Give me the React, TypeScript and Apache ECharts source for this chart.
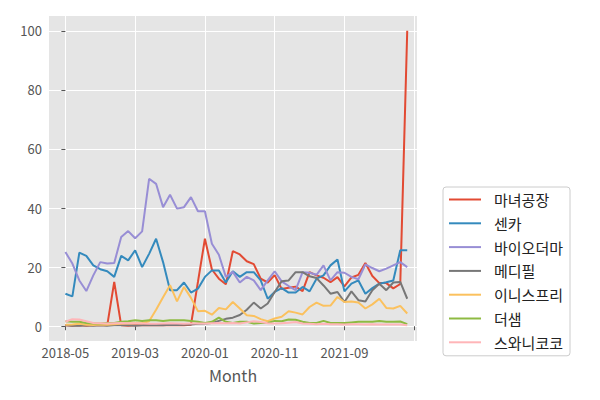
import React, { useEffect, useRef } from "react";
import * as echarts from "echarts";

const seriesNames = ["마녀공장", "센카", "바이오더마", "메디필", "이니스프리", "더샘", "스와니코코"];
const colors = ["#E24A33", "#348ABD", "#988ED5", "#777777", "#FBC15E", "#8EBA42", "#FFB5B8"];

const xTickValues = [0, 10, 20, 30, 40, 50];
const xTickLabels = ["2018-05", "2019-03", "2020-01", "2020-11", "2021-09", ""];
const yTickValues = [0, 20, 40, 60, 80, 100];

const witchFactory = [0.3, 0.2, 0.3, 0.2, 0.3, 0.4, 0.3, 15.0, 0.3, 0.2, 0.3, 0.3, 0.4, 0.3, 0.3, 0.4, 0.3, 0.3, 0.5, 15.0, 29.6, 19.2, 16.1, 14.2, 25.4, 24.3, 22.0, 21.0, 16.1, 14.8, 17.3, 12.6, 13.0, 13.4, 11.9, 18.3, 17.2, 16.4, 14.9, 16.6, 13.5, 16.5, 17.4, 21.4, 17.0, 14.6, 14.6, 12.8, 14.3, 100];
const senka = [11.0, 10.1, 24.9, 23.8, 20.6, 19.3, 18.6, 16.7, 23.8, 22.3, 25.7, 20.0, 24.5, 29.6, 21.7, 12.2, 12.2, 14.8, 11.4, 12.7, 16.7, 18.9, 18.9, 14.8, 18.6, 16.7, 18.3, 18.3, 15.5, 9.3, 11.6, 12.9, 11.4, 11.4, 13.3, 11.8, 16.1, 17.2, 20.6, 22.6, 11.8, 14.4, 15.5, 11.0, 12.9, 14.4, 14.9, 15.5, 25.7, 25.7];
const bioderma = [25.1, 21.2, 15.5, 11.9, 17.2, 21.7, 21.2, 21.4, 30.2, 32.2, 29.8, 32.1, 49.9, 48.2, 40.3, 44.5, 39.8, 40.3, 43.7, 38.9, 38.9, 27.9, 24.2, 16.7, 18.4, 14.8, 16.7, 15.5, 12.2, 15.5, 18.6, 15.2, 13.6, 12.2, 18.3, 18.1, 17.4, 20.6, 15.5, 18.3, 18.1, 16.7, 15.9, 20.9, 19.7, 18.6, 19.5, 20.6, 21.7, 20.0];
const medipeel = [0.3, 0.2, 0.2, 0.3, 0.2, 0.3, 0.2, 0.3, 0.3, 0.3, 0.2, 0.3, 0.3, 0.4, 0.3, 0.5, 0.4, 0.5, 0.6, 0.8, 0.9, 1.1, 1.8, 2.5, 2.9, 3.8, 5.6, 8.0, 6.0, 7.7, 11.6, 15.2, 15.5, 18.3, 18.3, 16.9, 16.3, 13.8, 11.0, 11.6, 8.2, 11.8, 8.8, 8.4, 12.2, 14.4, 12.2, 14.8, 15.0, 9.3];
const innisfree = [0.5, 0.6, 0.8, 0.5, 0.4, 0.6, 0.5, 0.7, 0.8, 0.9, 1.0, 1.0, 1.7, 5.6, 9.8, 13.9, 8.4, 13.3, 9.6, 5.1, 5.2, 3.9, 6.2, 5.7, 8.2, 6.0, 3.7, 3.5, 2.4, 1.7, 2.6, 3.2, 5.1, 4.6, 4.0, 6.5, 8.0, 6.9, 7.0, 9.9, 8.2, 8.4, 8.0, 6.0, 7.4, 9.3, 6.2, 6.0, 6.9, 4.3];
const thesaem = [1.7, 1.5, 1.5, 1.1, 0.9, 0.9, 1.1, 1.1, 1.5, 1.7, 2.0, 1.8, 2.0, 2.0, 1.8, 2.0, 2.0, 2.0, 1.8, 1.5, 1.1, 1.5, 2.9, 1.5, 1.1, 1.5, 1.5, 0.9, 1.1, 1.1, 1.8, 1.7, 2.3, 2.2, 1.5, 1.1, 1.1, 1.8, 1.1, 1.1, 1.1, 1.3, 1.5, 1.5, 1.5, 1.8, 1.5, 1.5, 1.6, 0.7];
const swanicoco = [1.5, 2.4, 2.3, 1.7, 1.1, 1.0, 0.9, 1.0, 1.1, 1.0, 1.0, 0.9, 0.8, 0.8, 0.9, 1.0, 0.9, 0.8, 0.9, 0.9, 0.9, 1.0, 1.1, 1.0, 1.1, 0.9, 1.3, 1.7, 1.4, 1.0, 0.9, 1.0, 1.2, 1.4, 0.9, 0.8, 0.7, 0.8, 0.7, 0.7, 0.6, 0.7, 0.7, 0.6, 0.7, 0.6, 0.6, 0.6, 0.6, 0.3];

const allSeries = [witchFactory, senka, bioderma, medipeel, innisfree, thesaem, swanicoco];

const FONT = "'Noto Sans CJK KR', 'Noto Sans', sans-serif";

export default function App() {
  const ref = useRef<HTMLDivElement>(null);
  useEffect(() => {
    if (!ref.current) return;
    const chart = echarts.init(ref.current, undefined, { renderer: "svg" });
    chart.setOption({
      animation: false,
      backgroundColor: "#ffffff",
      textStyle: { fontFamily: FONT },
      grid: {
        left: 49,
        top: 16,
        right: 183,
        bottom: 59,
        show: true,
        backgroundColor: "#E5E5E5",
        borderWidth: 0,
      },
      xAxis: {
        type: "value",
        min: -2.35,
        max: 50.4,
        name: "Month",
        nameLocation: "middle",
        nameGap: 26,
        nameTextStyle: { fontSize: 16, color: "#555555", fontFamily: FONT },
        axisLine: { show: false },
        axisTick: { show: true, length: 4, lineStyle: { color: "#555555" }, customValues: xTickValues },
        axisLabel: {
          customValues: xTickValues,
          color: "#555555",
          fontSize: 13,
          margin: 5,
          fontFamily: FONT,
          formatter: (v: number) => {
            const k = xTickValues.indexOf(Math.round(v));
            return k >= 0 ? xTickLabels[k] : "";
          },
        },
        splitLine: { show: true, lineStyle: { color: "#ffffff", width: 1 } },
      },
      yAxis: {
        type: "value",
        min: -5,
        max: 105,
        axisLine: { show: false },
        axisTick: { show: true, length: 4, lineStyle: { color: "#555555" }, customValues: yTickValues },
        axisLabel: { customValues: yTickValues, color: "#555555", fontSize: 13, margin: 7, fontFamily: FONT },
        splitLine: { show: true, lineStyle: { color: "#ffffff", width: 1 } },
      },
      legend: {
        orient: "vertical",
        left: 443,
        top: 187,
        padding: [5, 7, 6, 5],
        itemWidth: 32,
        itemHeight: 14,
        itemGap: 8.8,
        itemStyle: { opacity: 0 },
        backgroundColor: "#ffffff",
        borderColor: "#cccccc",
        borderWidth: 1,
        borderRadius: 3,
        textStyle: { fontSize: 15, color: "#222222", fontFamily: FONT, padding: [0, 0, 0, 8] },
        data: seriesNames,
      },
      series: seriesNames.map((name, s) => ({
        name,
        type: "line",
        symbol: "none",
        data: allSeries[s].map((v, i) => [i, v]),
        lineStyle: { width: 2, color: colors[s] },
        itemStyle: { color: colors[s] },
        z: 2 + s,
      })),
    });
    return () => chart.dispose();
  }, []);
  return <div ref={ref} style={{ position: "fixed", left: 0, top: 0, width: 600, height: 400 }} />;
}
